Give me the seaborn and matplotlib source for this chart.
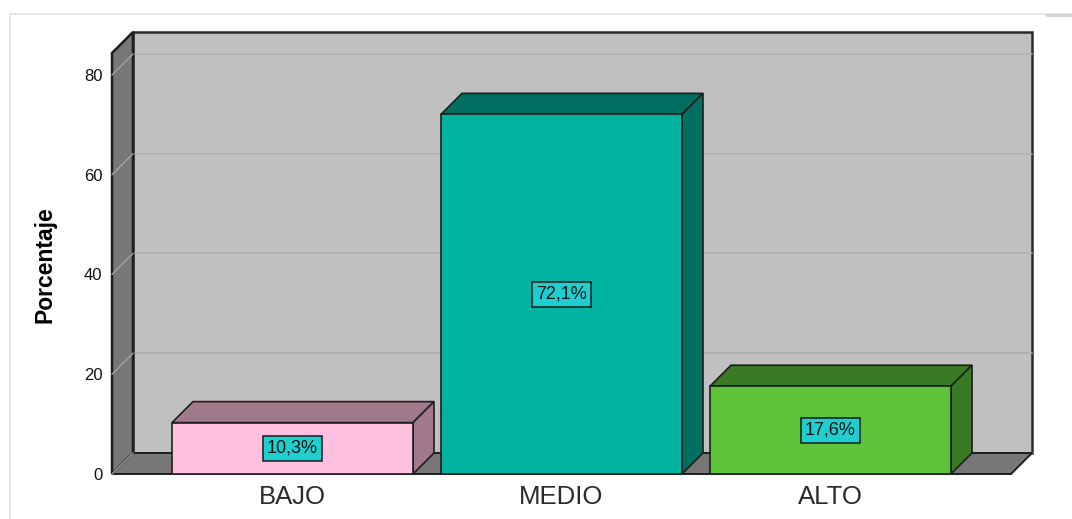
import matplotlib
matplotlib.use("Agg")
import matplotlib.pyplot as plt
from matplotlib.patches import Polygon, Rectangle
from matplotlib.lines import Line2D
import seaborn as sns
import pandas as pd

# Data
categories = ["BAJO", "MEDIO", "ALTO"]
percentages = [10.3, 72.1, 17.6]
y_ticks = [0, 20, 40, 60, 80]

# Colours: front face and shaded top/side faces of each bar
front_colors = ["#FFC0E0", "#00B3A0", "#5DC43A"]
shade_colors = ["#A07A8B", "#006E60", "#3B7A24"]

sns.set_theme(style="white")
plt.rcParams["font.family"] = ["Liberation Sans", "DejaVu Sans"]

W, H, DPI = 1072, 519, 100
fig = plt.figure(figsize=(W / DPI, H / DPI), dpi=DPI, facecolor="white")

# Front plane of the 3D box, in pixels
left_px, right_px, bottom_px, top_px = 112, 1011, 474, 53
ax = fig.add_axes([left_px / W, 1 - bottom_px / H,
                   (right_px - left_px) / W, (bottom_px - top_px) / H])
xmin, xmax = -0.671, 2.671
ymin, ymax = 0, 84.4

# Depth of the 3D effect, converted from pixels to data units
depth_px = 21
DX = depth_px * (xmax - xmin) / (right_px - left_px)
DY = depth_px * (ymax - ymin) / (bottom_px - top_px)

wall_dark = "#777777"
edge = "#1E1E1E"

# Front faces of the bars
df = pd.DataFrame({"Nivel": categories, "Porcentaje": percentages})
sns.barplot(data=df, x="Nivel", y="Porcentaje", hue="Nivel",
            palette=front_colors, width=0.896, edgecolor=edge, linewidth=1.2,
            saturation=1, legend=False, ax=ax, zorder=3)
bars = [p for p in ax.patches if isinstance(p, Rectangle)]

ax.set_xlim(xmin, xmax)
ax.set_ylim(ymin, ymax)
ax.patch.set_visible(False)
for s in ax.spines.values():
    s.set_visible(False)

# Back wall
ax.add_patch(Rectangle((xmin + DX, ymin + DY), xmax - xmin, ymax - ymin,
                       facecolor="#C0C0C0", edgecolor="#2A2A2A", lw=1.8,
                       zorder=0.5, clip_on=False))
# Gridlines on back wall
for v in y_ticks:
    ax.add_line(Line2D([xmin + DX, xmax + DX], [v + DY, v + DY],
                       color="#AEAEAE", lw=1.2, zorder=0.6, clip_on=False))
# Left wall with its tick diagonals
ax.add_patch(Polygon([(xmin, ymin), (xmin, ymax), (xmin + DX, ymax + DY),
                      (xmin + DX, ymin + DY)], closed=True,
                     facecolor=wall_dark, edgecolor=edge, lw=1.8,
                     zorder=0.7, clip_on=False))
for v in y_ticks[1:]:
    ax.add_line(Line2D([xmin, xmin + DX], [v, v + DY],
                       color="#A5A5A5", lw=1.0, zorder=0.75, clip_on=False))
# Floor
ax.add_patch(Polygon([(xmin, ymin), (xmax, ymin), (xmax + DX, ymin + DY),
                      (xmin + DX, ymin + DY)], closed=True,
                     facecolor=wall_dark, edgecolor=edge, lw=1.4,
                     zorder=0.8, clip_on=False))
ax.add_line(Line2D([xmin, xmin + DX], [ymin, ymin + DY],
                   color="#A5A5A5", lw=1.0, zorder=0.85, clip_on=False))

# Top and side faces, plus value labels
for bar, shade, val in zip(bars, shade_colors, percentages):
    x0 = bar.get_x()
    x1 = x0 + bar.get_width()
    h = bar.get_height()
    ax.add_patch(Polygon([(x0, h), (x1, h), (x1 + DX, h + DY), (x0 + DX, h + DY)],
                         closed=True, facecolor=shade, edgecolor=edge, lw=1.2,
                         zorder=2.9, clip_on=False))
    ax.add_patch(Polygon([(x1, 0), (x1 + DX, DY), (x1 + DX, h + DY), (x1, h)],
                         closed=True, facecolor=shade, edgecolor=edge, lw=1.2,
                         zorder=2.9, clip_on=False))
    ax.text((x0 + x1) / 2, h / 2, f"{val:.1f}%".replace(".", ","),
            ha="center", va="center", fontsize=13, color="#111111", zorder=5,
            bbox=dict(boxstyle="square,pad=0.22", facecolor="#1FCFCF",
                      edgecolor="#1A1A1A", lw=1.1))

# Axes labels and ticks
ax.set_yticks(y_ticks)
ax.set_yticklabels([str(t) for t in y_ticks])
ax.tick_params(axis="y", length=0, pad=7, labelsize=12, labelcolor="#111111")
ax.tick_params(axis="x", length=0, pad=8, labelsize=18.5, labelcolor="#2A2A2A")
ax.set_xlabel("")
ax.set_ylabel("Porcentaje", fontsize=16.5, fontweight="bold", color="#000000")
ax.yaxis.label.set_va("center")
ax.yaxis.set_label_coords((45 - left_px) / (right_px - left_px),
                          (bottom_px - 265) / (bottom_px - top_px))

# Light frame around the chart area
fig.add_artist(Line2D([10 / W, 1], [1 - 14 / H, 1 - 14 / H],
                      transform=fig.transFigure, color="#E2E2E2", lw=1.2))
fig.add_artist(Line2D([1046 / W, 1], [1 - 15 / H, 1 - 15 / H],
                      transform=fig.transFigure, color="#D4D4D4", lw=2))
fig.add_artist(Line2D([10 / W, 10 / W], [0, 1 - 14 / H],
                      transform=fig.transFigure, color="#E2E2E2", lw=1.2))

fig.savefig("out.png", dpi=DPI, facecolor="white")
